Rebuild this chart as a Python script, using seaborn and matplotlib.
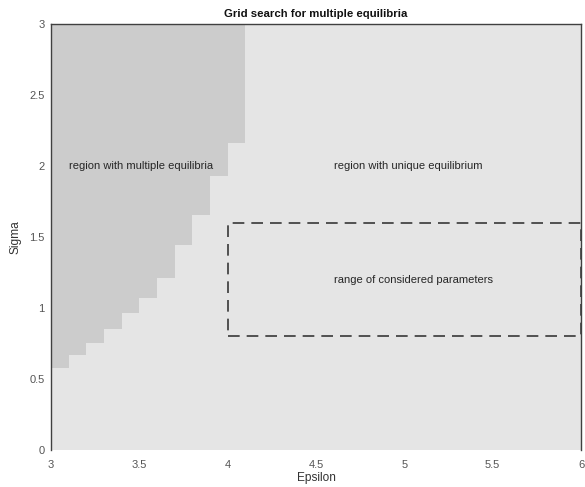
import numpy as np
import pandas as pd
import matplotlib
matplotlib.use("Agg")
import matplotlib.pyplot as plt
import seaborn as sns

# Epsilon grid columns (left edges, width 0.1) where multiple equilibria exist,
# and the lowest sigma at which they appear in each column
eps_cols = [3.0, 3.1, 3.2, 3.3, 3.4, 3.5, 3.6, 3.7, 3.8, 3.9, 4.0]
sigma_lower = [0.577, 0.666, 0.755, 0.854, 0.965, 1.073, 1.209, 1.442, 1.658, 1.93, 2.165]
eps_step = 0.1

# Parameter box considered in the analysis
range_eps = [4.0, 6.0]
range_sigma = [0.8, 1.6]

eps_lim = [3, 6]
sigma_lim = [0, 3]
xticks = [3, 3.5, 4, 4.5, 5, 5.5, 6]
yticks = [0, 0.5, 1, 1.5, 2, 2.5, 3]

sns.set_theme(style="white")
plt.rcParams["font.family"] = ["Liberation Sans", "DejaVu Sans"]

fig = plt.figure(figsize=(5.85, 4.87), dpi=100)
ax = fig.add_axes([0.0872, 0.076, 0.9060, 0.8747])
ax.set_facecolor("#e5e5e5")
ax.set_axisbelow(True)

# multiple-equilibria region: one cell column per epsilon step
heights = [sigma_lim[1] - s for s in sigma_lower]
ax.bar(eps_cols, heights, bottom=sigma_lower, width=eps_step, align="edge",
       color="#cccccc", linewidth=0, zorder=1)

# dashed rectangle around the considered parameter range
rect = pd.DataFrame({
    "Epsilon": [range_eps[0], range_eps[1], range_eps[1], range_eps[0], range_eps[0]],
    "Sigma": [range_sigma[0], range_sigma[0], range_sigma[1], range_sigma[1], range_sigma[0]],
})
sns.lineplot(data=rect, x="Epsilon", y="Sigma", sort=False, estimator=None,
             color="#505050", lw=1.4, linestyle=(0, (6, 3.6)), ax=ax, zorder=3)

txt_kw = dict(fontsize=8, color="#262626", va="center", ha="left")
ax.text(3.1, 2.0, "region with multiple equilibria", **txt_kw)
ax.text(4.6, 2.0, "region with unique equilibrium", **txt_kw)
ax.text(4.6, 1.2, "range of considered parameters", **txt_kw)

ax.set_xlim(eps_lim)
ax.set_ylim(sigma_lim)
ax.set_xticks(xticks)
ax.set_xticklabels([f"{t:g}" for t in xticks])
ax.set_yticks(yticks)
ax.set_yticklabels([f"{t:g}" for t in yticks])
ax.tick_params(axis="both", direction="in", length=3, width=0.6,
               labelsize=8, labelcolor="#555555", color="#404040", pad=4.5)
ax.tick_params(axis="x", pad=7)

for side in ["left", "top", "right"]:
    ax.spines[side].set_visible(True)
    ax.spines[side].set_color("#404040")
    ax.spines[side].set_linewidth(1.0)
ax.spines["bottom"].set_visible(False)

ax.set_xlabel("Epsilon", fontsize=8.6, color="#333333", labelpad=2)
ax.set_ylabel("Sigma", fontsize=8.6, color="#333333", labelpad=6)
ax.set_title("Grid search for multiple equilibria", fontsize=8.2, fontweight="bold",
             color="#111111", pad=5)

fig.savefig("out.png", dpi=100, facecolor="white")
